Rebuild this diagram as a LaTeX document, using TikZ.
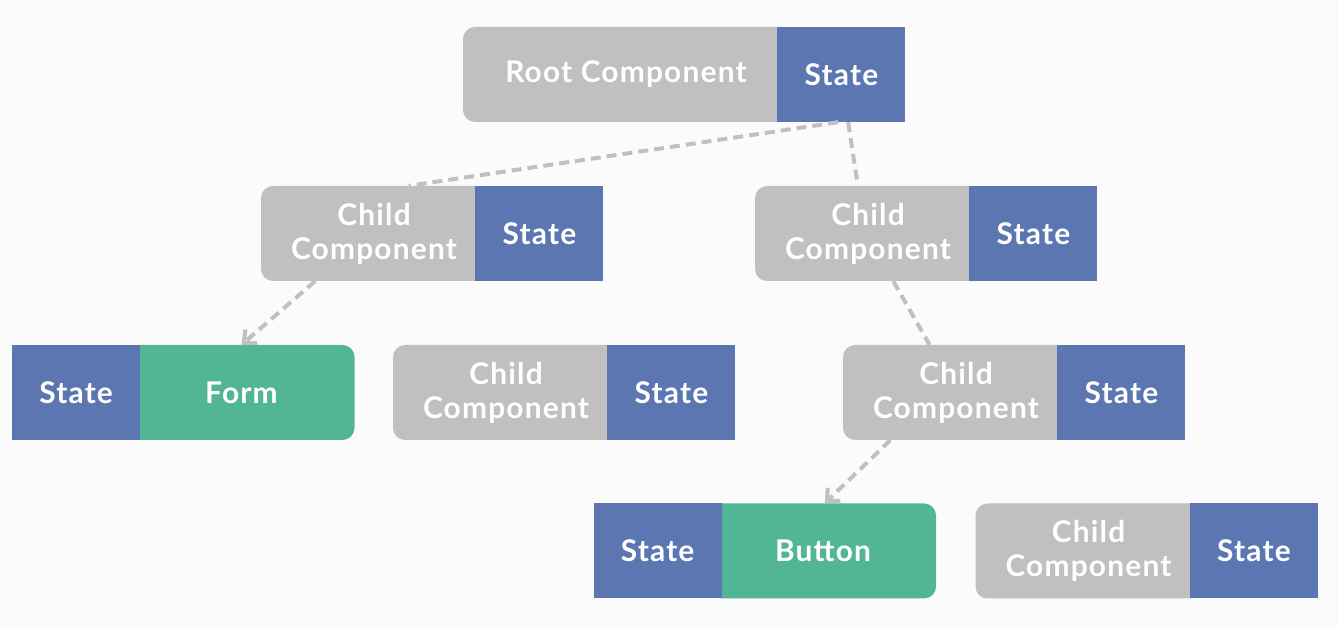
\documentclass[tikz,border=0pt]{standalone}
\usepackage{fontspec}
\setmainfont{Lato}[LetterSpace=4]
\usetikzlibrary{arrows.meta}
\definecolor{compgray}{RGB}{192,192,192}
\definecolor{stateblue}{RGB}{91,118,176}
\definecolor{leafgreen}{RGB}{82,181,150}
\definecolor{edgegray}{RGB}{192,192,192}
\definecolor{bgcol}{RGB}{251,251,251}
\tikzset{
  box/.style={minimum height=95bp, inner sep=0pt, text=white, align=center,
    font=\fontsize{30}{34}\selectfont\bfseries},
  comp/.style={box, fill=compgray, rounded corners=12bp, minimum width=226bp},
  state/.style={box, fill=stateblue, minimum width=128bp},
  leaf/.style={box, fill=leafgreen, rounded corners=12bp, minimum width=226bp},
  link/.style={edgegray, line width=4bp, dash pattern=on 10bp off 6bp},
}
\begin{document}
\begin{tikzpicture}[>={Straight Barb[length=10bp,width=18bp]},line join=bevel]
  \fill[bgcol] (0bp,0bp) rectangle (1338bp,626bp);
  \useasboundingbox (0bp,0bp) rectangle (1338bp,626bp);
%%
  % Node: root
  \node[comp, minimum width=326bp] (r) at (626bp,551.5bp) {Root Component};
  \node[state, anchor=west] (rs) at ([xshift=-12bp]r.east) {State};
  % Node: c1
  \node[comp] (c1) at (374bp,392.5bp) {Child\\Component};
  \node[state, anchor=west] (c1s) at ([xshift=-12bp]c1.east) {State};
  % Node: c2
  \node[comp] (c2) at (868bp,392.5bp) {Child\\Component};
  \node[state, anchor=west] (c2s) at ([xshift=-12bp]c2.east) {State};
  % Node: form
  \node[leaf] (f) at (241.5bp,233.5bp) {Form};
  \node[state, anchor=east] (fs) at ([xshift=12bp]f.west) {State};
  % Node: c3
  \node[comp] (c3) at (506bp,233.5bp) {Child\\Component};
  \node[state, anchor=west] (c3s) at ([xshift=-12bp]c3.east) {State};
  % Node: c4
  \node[comp] (c4) at (956bp,233.5bp) {Child\\Component};
  \node[state, anchor=west] (c4s) at ([xshift=-12bp]c4.east) {State};
  % Node: button
  \node[leaf] (b) at (823bp,75bp) {Button};
  \node[state, anchor=east] (bs) at ([xshift=12bp]b.west) {State};
  % Node: c5
  \node[comp] (c5) at (1088.5bp,75bp) {Child\\Component};
  \node[state, anchor=west] (c5s) at ([xshift=-12bp]c5.east) {State};
%%
  % Edge: rs -> c1
  \draw[link] (rs.-94) -- (c1.54);
  % Edge: rs -> c2
  \draw[link, shorten >=4bp] (rs.-82) -- (c2.102);
  % Edge: c1 -> f
  \draw[link, ->] (c1.-141) -- (f.north);
  % Edge: c2 -> c4
  \draw[link] (c2.-62) -- (c4.119);
  % Edge: c4 -> b
  \draw[link, ->] (c4.-144) -- (b.88);
%
\end{tikzpicture}
\end{document}
